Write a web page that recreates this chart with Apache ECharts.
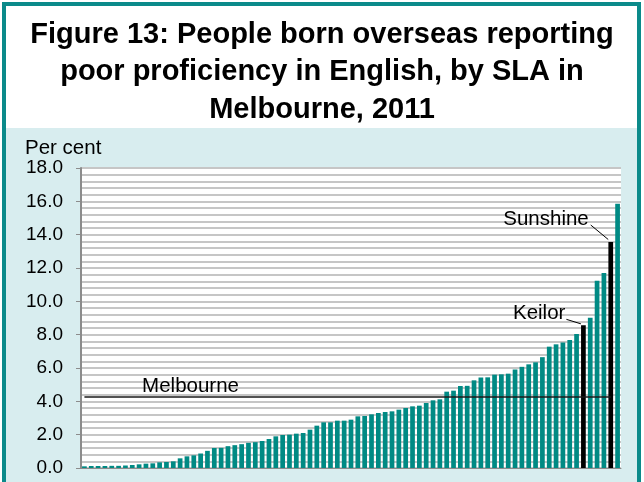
<!DOCTYPE html>
<html>
<head>
<meta charset="utf-8">
<script src="https://cdn.jsdelivr.net/npm/echarts@6.0.0/dist/echarts.min.js"></script>
<style>
  html, body { margin: 0; padding: 0; background: #fff; }
  #frame {
    position: absolute; left: 2px; top: 2px;
    width: 631px; height: 476px;
    border: 4px solid #0b8a8a; border-bottom: none;
    background: #d8edef;
  }
  #band { height: 122px; background: #fff; }
  #chart { position: absolute; left: 0; top: 0; width: 644px; height: 482px; }
</style>
</head>
<body>
<div id="frame"><div id="band"></div></div>
<div id="chart"></div>
<script>
// per cent of overseas-born reporting poor English, one bar per SLA, sorted
const VALUES = [
  0.10, 0.12, 0.12, 0.12, 0.13, 0.13, 0.15, 0.18, 0.22, 0.26,
  0.28, 0.34, 0.36, 0.40, 0.58, 0.70, 0.76, 0.87, 1.03, 1.20,
  1.21, 1.31, 1.37, 1.43, 1.51, 1.55, 1.62, 1.74, 1.90, 1.98,
  2.00, 2.06, 2.10, 2.30, 2.54, 2.74, 2.74, 2.84, 2.84, 2.90,
  3.10, 3.12, 3.22, 3.30, 3.36, 3.40, 3.50, 3.60, 3.70, 3.74,
  3.90, 4.06, 4.12, 4.58, 4.64, 4.92, 4.93, 5.26, 5.43, 5.44,
  5.60, 5.62, 5.66, 5.91, 6.07, 6.22, 6.34, 6.65, 7.28, 7.42,
  7.53, 7.68, 8.04, 8.56, 9.02, 11.24, 11.70, 13.56, 15.86
]
const MELBOURNE = 4.26
const CALLOUT_NAMES = ['Keilor', 'Sunshine']
const CALLOUT_INDEX = [73, 77]
const Y_MIN = 0
const Y_MAX = 18
const Y_STEP = 2

const TEAL = '#008a84'
const FONT = '"Liberation Sans", Arial, sans-serif'

const categories = VALUES.map((_, i) => {
  const k = CALLOUT_INDEX.indexOf(i)
  return k >= 0 ? CALLOUT_NAMES[k] : 'SLA ' + (i + 1)
})

const chart = echarts.init(document.getElementById('chart'))

chart.setOption({
  animation: false,
  title: {
    text: 'Figure 13: People born overseas reporting\npoor proficiency in English, by SLA in\nMelbourne, 2011',
    left: 'center',
    top: 11,
    textStyle: { color: '#000', fontFamily: FONT, fontSize: 29, fontWeight: 'bold', lineHeight: 37.5 }
  },
  grid: {
    left: 81, right: 23, top: 168, bottom: 14,
    show: true, backgroundColor: '#fff', borderWidth: 0
  },
  xAxis: {
    type: 'category',
    data: categories,
    axisLine: { lineStyle: { color: '#8c8c8c', width: 1 } },
    axisTick: { show: false },
    axisLabel: { show: false }
  },
  yAxis: {
    type: 'value',
    min: Y_MIN,
    max: Y_MAX,
    interval: Y_STEP,
    axisLine: { show: true, lineStyle: { color: '#8c8c8c', width: 2 } },
    axisTick: { show: true, length: 5, lineStyle: { color: '#8c8c8c' } },
    axisLabel: {
      color: '#000', fontFamily: FONT, fontSize: 19, margin: 18,
      formatter: (v) => v.toFixed(1)
    },
    splitLine: { lineStyle: { color: '#c6c6c6', width: 2 } },
    minorTick: { show: false, splitNumber: 5 },
    minorSplitLine: { show: true, lineStyle: { color: '#c6c6c6', width: 2 } }
  },
  series: [
    {
      type: 'bar',
      data: VALUES.map((v, i) => ({
        value: v,
        itemStyle: { color: CALLOUT_INDEX.includes(i) ? '#000' : TEAL }
      })),
      barCategoryGap: '31%',
      markLine: {
        silent: true,
        symbol: 'none',
        label: { show: false },
        lineStyle: { color: '#1a1a1a', width: 1.5, type: 'solid' },
        data: [[{ xAxis: 0, yAxis: MELBOURNE }, { xAxis: CALLOUT_INDEX[1], yAxis: MELBOURNE }]]
      }
    }
  ]
})

// annotations placed from the chart's own scales
function px(i, v) {
  return chart.convertToPixel({ seriesIndex: 0 }, [i, v])
}

const textStyle = (text, x, y, align, size) => ({
  text, x, y,
  font: size + 'px ' + FONT,
  fill: '#000',
  textAlign: align, align: align,
  textVerticalAlign: 'middle', verticalAlign: 'middle'
})

const graphics = []
graphics.push({ type: 'text', style: textStyle('Per cent', 25, 148, 'left', 20.5) })

const mel = px(8, MELBOURNE)
graphics.push({ type: 'text', style: textStyle('Melbourne', mel[0] + 3, mel[1] - 11, 'left', 20.5) })

const k = px(CALLOUT_INDEX[0], VALUES[CALLOUT_INDEX[0]])
graphics.push({ type: 'text', style: textStyle(CALLOUT_NAMES[0], k[0] - 18, k[1] - 12, 'right', 20.5) })
graphics.push({ type: 'line', shape: { x1: k[0] - 17, y1: k[1] - 6, x2: k[0] - 2.5, y2: k[1] - 1.5 }, style: { stroke: '#000', lineWidth: 1 } })

const s = px(CALLOUT_INDEX[1], VALUES[CALLOUT_INDEX[1]])
graphics.push({ type: 'text', style: textStyle(CALLOUT_NAMES[1], s[0] - 22, s[1] - 23, 'right', 20.5) })
graphics.push({ type: 'line', shape: { x1: s[0] - 20, y1: s[1] - 17, x2: s[0] - 2.5, y2: s[1] - 2.5 }, style: { stroke: '#000', lineWidth: 1 } })

chart.setOption({ graphic: graphics })
</script>
</body>
</html>
